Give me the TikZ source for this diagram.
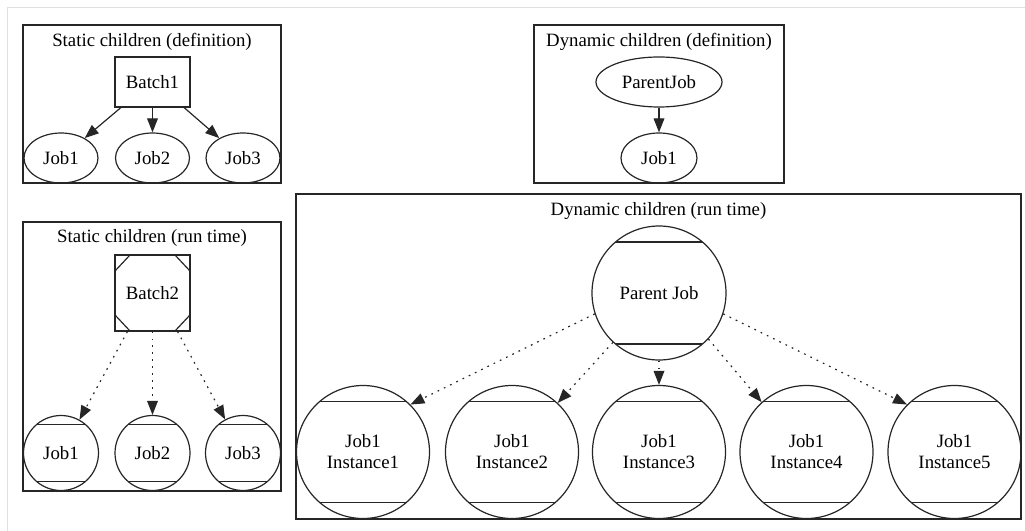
\documentclass[tikz,border=0pt]{standalone}
\usepackage{fontspec}
\setmainfont{Liberation Serif}
\usetikzlibrary{shapes.geometric,arrows.meta,calc}
\begin{document}
\begin{tikzpicture}[x=0.75pt,y=-0.75pt,
  lbl/.style={font=\fontsize{14.1}{15.75}\selectfont, inner sep=0pt},
  cluster/.style={rectangle, draw=black!85, line width=0.9pt, inner sep=0pt},
  oval/.style={lbl, ellipse, draw=black!85, line width=0.9pt, minimum height=37.5pt},
  boxnode/.style={lbl, rectangle, draw=black!85, line width=0.9pt, minimum width=56.25pt, minimum height=37.5pt},
  msq/.style={lbl, rectangle, draw=black!85, line width=0.9pt, minimum width=56.25pt, minimum height=57pt,
    path picture={
      \draw[line width=0.9pt, black!85] ([yshift=-12pt]path picture bounding box.north west) -- ([xshift=11.25pt]path picture bounding box.north west);
      \draw[line width=0.9pt, black!85] ([yshift=-12pt]path picture bounding box.north east) -- ([xshift=-11.25pt]path picture bounding box.north east);
      \draw[line width=0.9pt, black!85] ([yshift=12pt]path picture bounding box.south west) -- ([xshift=11.25pt]path picture bounding box.south west);
      \draw[line width=0.9pt, black!85] ([yshift=12pt]path picture bounding box.south east) -- ([xshift=-11.25pt]path picture bounding box.south east);
    }},
  mcirc/.style={lbl, circle, draw=black!85, line width=0.9pt, align=center,
    path picture={
      \draw[line width=0.9pt, black!85] ($(path picture bounding box.center)!0.76!(path picture bounding box.north)$) +(-90pt,0) -- +(90pt,0);
      \draw[line width=0.9pt, black!85] ($(path picture bounding box.center)!0.76!(path picture bounding box.south)$) +(-90pt,0) -- +(90pt,0);
    }},
  small/.style={mcirc, minimum size=56.25pt},
  big/.style={mcirc, minimum size=99.75pt},
  solidarrow/.style={-{Triangle[length=10.5pt,width=8pt]}, line width=0.9pt, black!85},
  dotarrow/.style={solidarrow, dash pattern=on 1.3pt off 3.9pt}
]
\useasboundingbox (0,0) rectangle (1025,531);
\draw[black!12, line width=0.75pt] (7,531) -- (7,8) -- (1025,8);

% clusters
\node[cluster, minimum width=193.5pt, minimum height=118.5pt] (c1) at (152,104) {};
\node[cluster, minimum width=193.5pt, minimum height=201.75pt] (c2) at (152,356.5) {};
\node[cluster, minimum width=187.5pt, minimum height=118.5pt] (c3) at (659,104) {};
\node[cluster, minimum width=543.75pt, minimum height=243.75pt] (c4) at (658.5,356.5) {};

% titles
\node[lbl] (t1) at (152,42) {Static children (definition)};
\node[lbl] (t2) at (152,238) {Static children (run time)};
\node[lbl] (t3) at (659,42) {Dynamic children (definition)};
\node[lbl] (t4) at (658.5,211) {Dynamic children (run time)};

% static definition
\node[boxnode] (b1) at (152.5,82) {Batch1};
\node[oval, minimum width=55.5pt] (j1) at (61,158) {Job1};
\node[oval, minimum width=55.5pt] (j2) at (152.5,158) {Job2};
\node[oval, minimum width=55.5pt] (j3) at (243,158) {Job3};
\draw[solidarrow] (b1.219) -- (j1.40);
\draw[solidarrow] (b1) -- (j2);
\draw[solidarrow] (b1.321) -- (j3.140);

% dynamic definition
\node[oval, minimum width=94.5pt] (pj) at (659,82) {ParentJob};
\node[oval, minimum width=57pt] (dj1) at (659,158) {Job1};
\draw[solidarrow] (pj) -- (dj1);

% static run time
\node[msq] (b2) at (152.5,293) {Batch2};
\node[small] (rj1) at (61,453) {Job1};
\node[small] (rj2) at (152.5,453) {Job2};
\node[small] (rj3) at (243,453) {Job3};
\draw[dotarrow] (b2.237) -- (rj1.61.5);
\draw[dotarrow] (b2) -- (rj2);
\draw[dotarrow] (b2.303) -- (rj3.118.5);

% dynamic run time
\node[mcirc, minimum size=100.5pt] (p) at (659,293) {Parent Job};
\node[big] (i1) at (363,452) {Job1\\Instance1};
\node[big] (i2) at (512,452) {Job1\\Instance2};
\node[big] (i3) at (659,452) {Job1\\Instance3};
\node[big] (i4) at (806.5,452) {Job1\\Instance4};
\node[big] (i5) at (954.5,452) {Job1\\Instance5};
\draw[dotarrow] (p.198) -- (i1.45);
\draw[dotarrow] (p.227) -- (i2.47);
\draw[dotarrow] (p) -- (i3);
\draw[dotarrow] (p.317) -- (i4.132);
\draw[dotarrow] (p.342) -- (i5.135);
\end{tikzpicture}
\end{document}
